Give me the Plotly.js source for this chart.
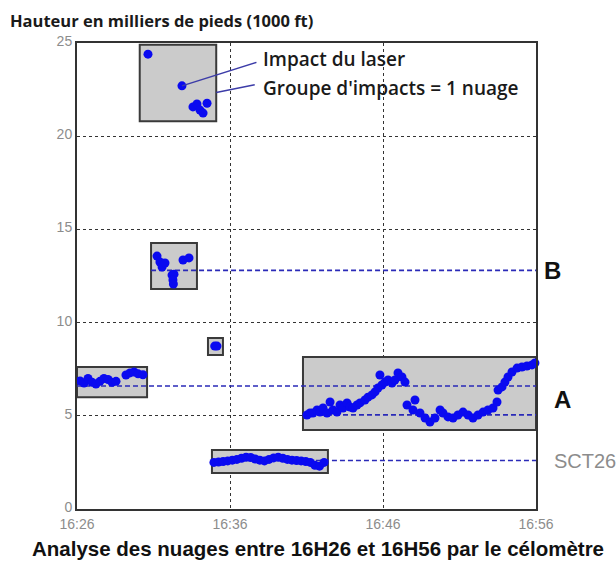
<!DOCTYPE html>
<html>
<head>
<meta charset="utf-8">
<script src="https://cdn.plot.ly/plotly-3.0.1.min.js"></script>
<style>
  html, body { margin: 0; padding: 0; background: #ffffff; overflow: hidden; }
  #chart { width: 616px; height: 567px; }
</style>
</head>
<body>
<div id="chart"></div>
<script>
// Time axis: minutes after 16:26, heights in thousands of feet
const tickMinutes = [0, 10, 20, 30];
const tickLabels = ["16:26", "16:36", "16:46", "16:56"];

// Ceilometer laser hits, grouped by cloud layer
const highT = [4.64, 6.86, 7.58, 7.84, 8.04, 8.24, 8.50];
const highH = [24.4, 22.7, 21.57, 21.73, 21.4, 21.24, 21.77];

const layerBT = [5.23, 5.42, 5.56, 5.75, 6.93, 7.32, 6.21, 6.34, 6.27, 6.30];
const layerBH = [13.57, 13.25, 12.98, 13.2, 13.36, 13.47, 12.55, 12.6, 12.29, 12.07];

const isolatedT = [9.0, 9.15];
const isolatedH = [8.74, 8.74];

const earlyT = [0.2, 0.46, 0.72, 0.98, 1.24, 1.5, 1.76, 2.03, 2.29, 2.55, 3.2, 3.46, 3.73, 3.99, 4.31];
const earlyH = [6.87, 6.76, 7.0, 6.8, 6.7, 6.85, 7.0, 6.95, 6.8, 6.85, 7.19, 7.3, 7.35, 7.25, 7.2];

const lowT = [8.95, 9.25, 9.55, 9.85, 10.15, 10.45, 10.75, 11.05, 11.35, 11.65, 11.95, 12.25,
              12.55, 12.85, 13.15, 13.45, 13.75, 14.05, 14.35, 14.65, 14.95, 15.25, 15.55, 15.85, 16.15];
const lowH = [2.5, 2.52, 2.55, 2.58, 2.62, 2.66, 2.72, 2.78, 2.76, 2.68, 2.62, 2.58,
              2.66, 2.74, 2.78, 2.72, 2.66, 2.62, 2.6, 2.58, 2.55, 2.5, 2.35, 2.3, 2.5];

const layerAT = [15.03, 15.23, 15.42, 15.69, 15.88, 16.08, 16.34, 16.54, 16.73, 16.99, 17.19, 17.39,
                 17.65, 17.84, 18.04, 18.3, 18.5, 18.82, 19.02, 19.28, 19.48, 19.67, 19.8, 19.93,
                 20.13, 20.33, 20.59, 20.78, 20.98, 21.24, 21.44,
                 21.57, 22.09, 21.96, 22.42, 22.75, 23.07, 23.4, 23.73, 23.92, 24.25, 24.58, 24.9,
                 25.23, 25.56, 25.88, 26.21, 26.54, 26.86, 27.19, 27.45, 27.52, 27.78, 27.97, 28.17,
                 28.43, 28.76, 29.08, 29.41, 29.74, 29.93];
const layerAH = [5.04, 5.15, 5.15, 5.31, 5.2, 5.42, 5.15, 5.74, 5.31, 5.2, 5.58, 5.42,
                 5.69, 5.47, 5.42, 5.58, 5.69, 5.85, 6.0, 6.12, 6.28, 6.49, 7.19, 6.65,
                 6.81, 6.92, 6.76, 6.92, 7.3, 7.08, 6.81,
                 5.58, 5.85, 5.31, 5.15, 4.88, 4.67, 4.88, 5.31, 5.15, 4.94, 4.88, 5.04,
                 5.2, 5.04, 4.88, 5.04, 5.2, 5.31, 5.42, 5.74, 6.38, 6.55, 6.81, 7.08,
                 7.35, 7.56, 7.62, 7.67, 7.73, 7.83];

// Cloud groups: time span and height span of each detected cloud
const cloudStart = [4.1, 4.84, 8.56, 0.0, 8.82, 14.77];
const cloudEnd   = [9.1, 7.84, 9.54, 4.58, 16.4, 30.0];
const cloudBase  = [20.8, 11.8, 8.26, 6.0, 1.93, 4.24];
const cloudTop   = [24.9, 14.27, 9.17, 7.62, 3.17, 8.15];

// Mean layer heights (dashed) and where each one starts
const layerNames  = ["B", "A", "A", "SCT26"];
const layerLevel  = [12.8, 6.6, 5.05, 2.6];
const layerFrom   = [4.84, 0.0, 14.77, 8.82];
const layerTo     = [30, 30, 30, 30];

const dotColor = "#0a0af0";
const dashColor = "#2a2ab8";

const traces = [];
layerLevel.forEach((h, i) => {
  traces.push({
    x: [layerFrom[i], layerTo[i]], y: [h, h],
    type: "scatter", mode: "lines",
    line: { color: dashColor, width: 1.6, dash: "5px,3px" },
    hoverinfo: "skip", showlegend: false, cliponaxis: false
  });
});
[[highT, highH], [layerBT, layerBH], [isolatedT, isolatedH], [earlyT, earlyH],
 [lowT, lowH], [layerAT, layerAH]].forEach(([t, h]) => {
  traces.push({
    x: t, y: h, type: "scatter", mode: "markers",
    marker: { color: dotColor, size: 9 },
    showlegend: false, cliponaxis: false
  });
});

const shapes = cloudStart.map((t0, i) => ({
  type: "rect", xref: "x", yref: "y",
  x0: t0, x1: cloudEnd[i], y0: cloudBase[i], y1: cloudTop[i],
  fillcolor: "#cbcbcb", line: { color: "#3a3a3a", width: 2 },
  layer: "between"
}));

const tickFont = { family: "Liberation Sans, Arial, sans-serif", size: 14, color: "#8c8c8c" };
const noteFont = { family: "Open Sans, sans-serif", size: 19, color: "#1a1a1a", weight: 600 };
const linkStyle = { showarrow: true, arrowhead: 0, arrowwidth: 1.5, arrowcolor: "#3c3ca8", standoff: 0, text: "" };

const annotations = [
  Object.assign({ xref: "x", yref: "y", x: 6.86, y: 22.7, ax: 76, ay: -24, axref: "pixel", ayref: "pixel" }, linkStyle),
  Object.assign({ xref: "x", yref: "y", x: 9.1, y: 22.35, ax: 40, ay: -8, axref: "pixel", ayref: "pixel" }, linkStyle),
  { xref: "x", yref: "y", x: 12.0, y: 24.15, xanchor: "left", yanchor: "middle",
    text: "Impact du laser", showarrow: false, font: noteFont },
  { xref: "x", yref: "y", x: 12.0, y: 22.6, xanchor: "left", yanchor: "middle",
    text: "Groupe d'impacts = 1 nuage", showarrow: false, font: noteFont },
  { xref: "paper", yref: "y", x: 1.037, y: layerLevel[0], xanchor: "center", yanchor: "middle",
    text: layerNames[0], showarrow: false,
    font: { family: "Liberation Sans, Arial, sans-serif", size: 24, color: "#111", weight: 700 } },
  { xref: "paper", yref: "y", x: 1.058, y: 5.9, xanchor: "center", yanchor: "middle",
    text: layerNames[1], showarrow: false,
    font: { family: "Liberation Sans, Arial, sans-serif", size: 24, color: "#111", weight: 700 } },
  { xref: "paper", yref: "y", x: 1.034, y: layerLevel[3], xanchor: "left", yanchor: "middle",
    text: layerNames[3], showarrow: false,
    font: { family: "Liberation Sans, Arial, sans-serif", size: 20, color: "#8c8c8c" } },
  { xref: "paper", yref: "paper", x: 0.525, y: -(548 - 509) / 466, xanchor: "center", yanchor: "middle",
    text: "Analyse des nuages entre 16H26 et 16H56 par le célomètre", showarrow: false,
    font: { family: "Liberation Sans, Arial, sans-serif", size: 20.5, color: "#111", weight: 700 } }
];

const layout = {
  width: 616, height: 567,
  margin: { l: 77, r: 80, t: 43, b: 58, pad: 0 },
  paper_bgcolor: "#ffffff", plot_bgcolor: "#ffffff",
  title: {
    text: "Hauteur en milliers de pieds (1000 ft)",
    xref: "container", yref: "container", x: 10 / 616, xanchor: "left",
    y: 1 - 21 / 567, yanchor: "middle",
    font: { family: "Open Sans, sans-serif", size: 16.5, color: "#1a1a1a", weight: 700 }
  },
  xaxis: {
    range: [0, 30], tickvals: tickMinutes, ticktext: tickLabels,
    showgrid: true, gridcolor: "#333333", griddash: "dot", gridwidth: 1,
    zeroline: false, showline: true, mirror: true, linecolor: "#333333", linewidth: 2,
    ticks: "", tickfont: tickFont, ticklabelstandoff: 1, fixedrange: true
  },
  yaxis: {
    range: [0, 25], tick0: 0, dtick: 5,
    showgrid: true, gridcolor: "#333333", griddash: "dot", gridwidth: 1,
    zeroline: false, showline: true, mirror: true, linecolor: "#333333", linewidth: 2,
    ticks: "", tickfont: tickFont, ticklabelshift: -2, fixedrange: true
  },
  shapes: shapes,
  annotations: annotations,
  showlegend: false,
  hovermode: false
};

Plotly.newPlot("chart", traces, layout, { displayModeBar: false, staticPlot: true });
</script>
</body>
</html>
